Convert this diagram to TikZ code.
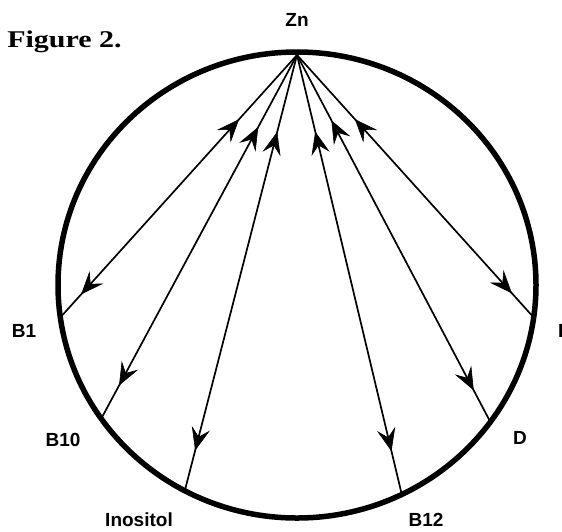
\documentclass[tikz,border=0pt]{standalone}
\usepackage{fontspec}
\setmainfont{Liberation Serif}
\newfontfamily\labfont{Liberation Sans}
\usetikzlibrary{calc}
\tikzset{
  rim/.style={line width=5.5pt},
  link/.style={line width=1.7pt},
  headfill/.style={fill=black, draw=black, line width=0.6pt, line join=miter},
  lab/.style={font=\labfont\bfseries\fontsize{19}{22}\selectfont, inner sep=0pt}
}
% arrowhead: #1 name, #2 tip coordinate, #3 coordinate behind the tip
\newcommand{\arrhead}[3]{%
  \coordinate (#1t) at (#2);
  \coordinate (#1b) at ($(#2)!21pt!(#3)$);
  \coordinate (#1i) at ($(#2)!13pt!(#3)$);
  \coordinate (#1l) at ($(#1b)!8.5pt!90:(#1t)$);
  \coordinate (#1r) at ($(#1b)!8.5pt!-90:(#1t)$);
  \path[headfill] (#1t) -- (#1l) -- (#1i) -- (#1r) -- cycle;
}
\newcommand{\biarrow}[3]{%
  \draw[link] (zn) -- (#1);
  \coordinate (#1u) at ($(zn)!#2!(#1)$);
  \coordinate (#1d) at ($(zn)!#3!(#1)$);
  \arrhead{#1U}{#1u}{#1}
  \arrhead{#1D}{#1d}{zn}
}
\begin{document}
\begin{tikzpicture}[x=1pt,y=-1pt]
\useasboundingbox (0,0) rectangle (562,531);
\coordinate (c) at (297,285);
\coordinate (zn) at (297,55);
\coordinate (b1) at ($(c)+(172:239 and 233)$);
\coordinate (b10) at ($(c)+(145:239 and 233)$);
\coordinate (ino) at ($(c)+(118:239 and 233)$);
\coordinate (b12) at ($(c)+(64:239 and 233)$);
\coordinate (d) at ($(c)+(36:239 and 233)$);
\coordinate (r) at ($(c)+(8:239 and 233)$);
% rim
\draw[rim] (c) ellipse [x radius=239, y radius=233];
% connectors
\biarrow{b1}{0.247}{0.91}
\biarrow{b10}{0.20}{0.907}
\biarrow{ino}{0.178}{0.906}
\biarrow{b12}{0.176}{0.90}
\biarrow{d}{0.18}{0.912}
\biarrow{r}{0.247}{0.906}
% labels
\node[anchor=base west, inner sep=0pt, font=\bfseries\fontsize{24}{27}\selectfont, xscale=1.25] (fig) at (7,47) {Figure 2.};
\node[lab] (lzn) at (297,20) {Zn};
\node[lab] (lb1) at (24,331) {B1};
\node[lab] (lb10) at (63,440) {B10};
\node[lab] (lino) at (139,520) {Inositol};
\node[lab] (lb12) at (426,520) {B12};
\node[lab] (ld) at (520,438) {D};
\node[lab, anchor=west] (lr) at (558,331) {B6};
\end{tikzpicture}
\end{document}
